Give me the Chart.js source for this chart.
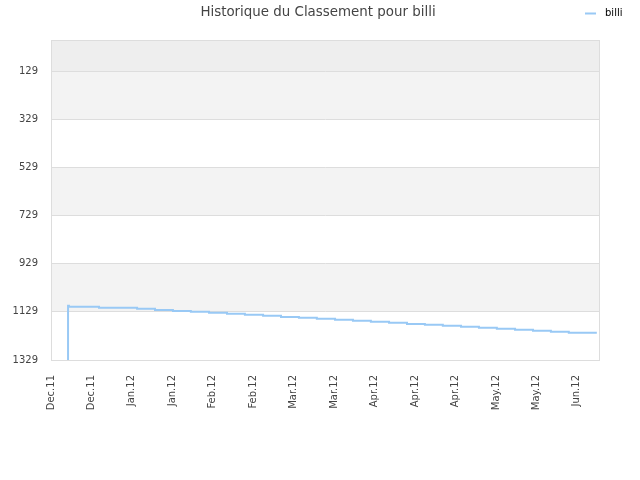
<!DOCTYPE html>
<html>
<head>
<meta charset="utf-8">
<script src="https://cdn.jsdelivr.net/npm/chart.js@4/dist/chart.umd.min.js"></script>
<style>
  html, body { margin: 0; padding: 0; background: #fff; }
  #wrap { width: 640px; height: 480px; }
</style>
</head>
<body>
<div id="wrap"><canvas id="c" width="640" height="480"></canvas></div>
<script>
// days counted from 11 Dec 2011
var xTickDays = [0, 14, 28, 42, 56, 70, 84, 98, 112, 126, 140, 154, 168, 182];
var xTickLabels = ["Dec.11", "Dec.11", "Jan.12", "Jan.12", "Feb.12", "Feb.12", "Mar.12",
  "Mar.12", "Apr.12", "Apr.12", "Apr.12", "May.12", "May.12", "Jun.12"];
var yTicks = [129, 329, 529, 729, 929, 1129, 1329];

// ranking history (step points: day, rank)
var rankDays = [5.9, 5.9, 6.2, 16.6, 29.8, 36.0, 42.2, 48.4, 54.7, 60.9, 67.1, 73.4, 79.6,
  85.8, 92.0, 98.3, 104.5, 110.7, 117.0, 123.2, 129.4, 135.6, 141.9, 148.1, 154.3,
  160.6, 166.8, 173.0, 179.2, 185.5, 188.9];
var rankValues = [1329, 1225, 1104, 1108, 1112, 1116, 1121, 1125, 1129, 1133, 1137, 1141,
  1145, 1150, 1154, 1158, 1162, 1166, 1170, 1174, 1179, 1183, 1187, 1191, 1195, 1199,
  1203, 1208, 1212, 1216, 1216];

var TITLE = "Historique du Classement pour billi";
var SERIES = "billi";
var LINE = "#99c9f5";
var FONT = "DejaVu Sans";

var points = rankDays.map(function (d, i) { return { x: d, y: rankValues[i] }; });

// alternating bands, plot frame, title and legend
var decor = {
  id: "decor",
  beforeDraw: function (chart) {
    var ctx = chart.ctx, a = chart.chartArea, y = chart.scales.y;
    ctx.save();
    ctx.fillStyle = "#eeeeee";
    ctx.fillRect(a.left, a.top, a.right - a.left, y.getPixelForValue(yTicks[0]) - a.top);
    for (var i = 0; i < yTicks.length - 1; i++) {
      if (i % 2 !== 0) continue;
      var t = y.getPixelForValue(yTicks[i]);
      var b = y.getPixelForValue(yTicks[i + 1]);
      ctx.fillStyle = "#f3f3f3";
      ctx.fillRect(a.left, t, a.right - a.left, b - t);
    }
    ctx.restore();
  },
  afterDraw: function (chart) {
    var ctx = chart.ctx, a = chart.chartArea;
    ctx.save();
    ctx.strokeStyle = "#dddddd";
    ctx.lineWidth = 1;
    ctx.strokeRect(a.left + 0.5, a.top + 0.5, a.right - a.left - 1, a.bottom - a.top);

    ctx.fillStyle = "#444444";
    ctx.font = "13.4px '" + FONT + "'";
    ctx.textAlign = "center";
    ctx.textBaseline = "middle";
    ctx.fillText(TITLE, 318, 13);

    ctx.strokeStyle = LINE;
    ctx.lineWidth = 2;
    ctx.beginPath();
    ctx.moveTo(585, 13.5);
    ctx.lineTo(596, 13.5);
    ctx.stroke();
    ctx.fillStyle = "#000000";
    ctx.font = "10px '" + FONT + "'";
    ctx.textAlign = "left";
    ctx.fillText(SERIES, 605, 13);
    ctx.restore();
  }
};

new Chart(document.getElementById("c"), {
  type: "line",
  data: {
    datasets: [{
      label: SERIES,
      data: points,
      borderColor: LINE,
      borderWidth: 2,
      pointRadius: 0,
      stepped: "after",
      fill: false
    }]
  },
  options: {
    responsive: false,
    animation: false,
    layout: { padding: { top: 40, right: 40, left: 0, bottom: 0 } },
    plugins: { legend: { display: false }, title: { display: false }, tooltip: { enabled: false } },
    scales: {
      x: {
        type: "linear",
        min: 0,
        max: 190,
        afterBuildTicks: function (s) { s.ticks = xTickDays.map(function (v) { return { value: v }; }); },
        afterFit: function (s) { s.height = 120; },
        grid: { display: false },
        border: { display: false },
        ticks: {
          autoSkip: false,
          minRotation: 90,
          maxRotation: 90,
          padding: 7,
          color: "#444444",
          font: { family: FONT, size: 10 },
          callback: function (v) {
            var i = xTickDays.indexOf(v);
            return i >= 0 ? xTickLabels[i] : "";
          }
        }
      },
      y: {
        type: "linear",
        reverse: true,
        min: 0,
        max: 1329,
        afterBuildTicks: function (s) { s.ticks = yTicks.map(function (v) { return { value: v }; }); },
        afterFit: function (s) { s.width = 51; },
        grid: { color: "#dddddd", drawTicks: false },
        border: { display: false },
        ticks: {
          padding: 13,
          color: "#444444",
          font: { family: FONT, size: 10 },
          callback: function (v) { return String(v); }
        }
      }
    }
  },
  plugins: [decor]
});
</script>
</body>
</html>
